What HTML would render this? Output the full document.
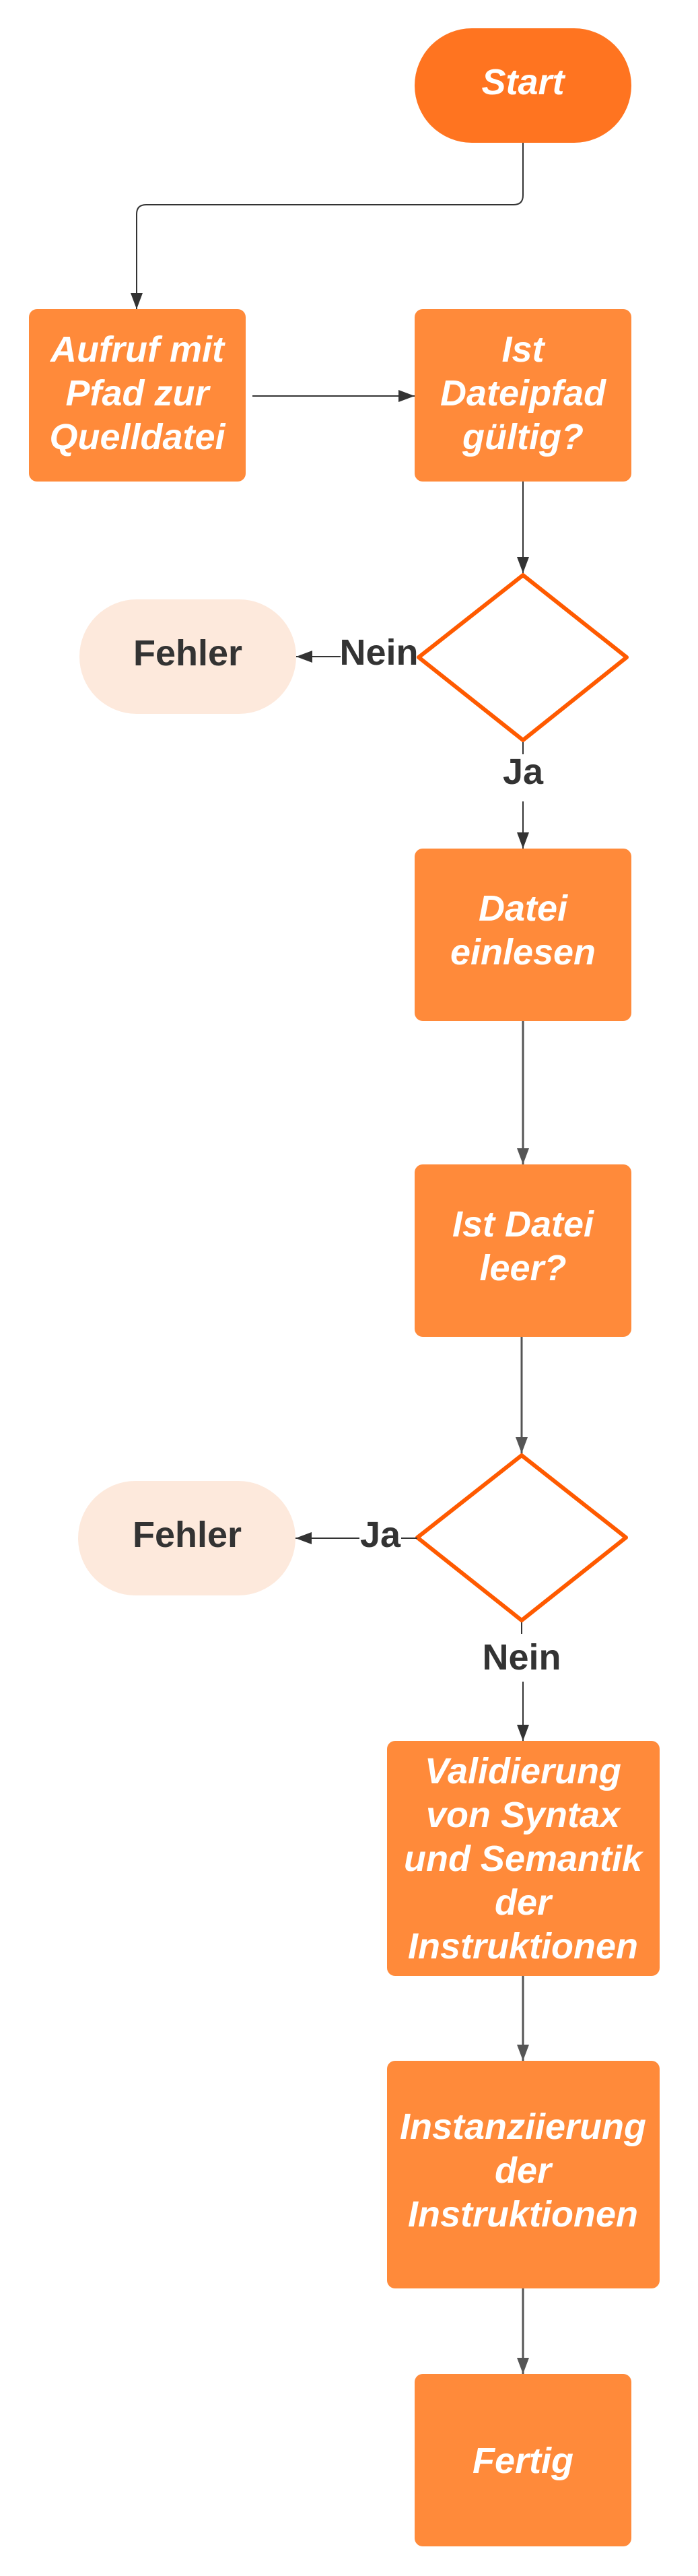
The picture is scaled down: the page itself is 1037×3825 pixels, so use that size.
<!DOCTYPE html>
<html><head><meta charset="utf-8"><style>html,body{margin:0;padding:0;background:#fff}svg{display:block}</style></head>
<body>
<svg width="1037" height="3825" viewBox="0 0 1037 3825" xmlns="http://www.w3.org/2000/svg">
<defs>
<marker id="b" markerWidth="24" markerHeight="24" refX="24" refY="12" orient="auto" markerUnits="userSpaceOnUse" viewBox="0 0 24 24"><path d="M0,3 L24,12 L0,21 z" fill="#333"/></marker>
<marker id="c" markerWidth="24" markerHeight="24" refX="24" refY="12" orient="auto" markerUnits="userSpaceOnUse" viewBox="0 0 24 24"><path d="M0,3 L24,12 L0,21 z" fill="#555"/></marker>
</defs>
<g font-family="Liberation Sans, sans-serif" font-weight="bold" text-anchor="middle">
<rect x="616" y="42" width="322" height="170" rx="85" fill="#FF7420"/>
<text x="777" y="140" font-size="54" font-style="italic" fill="#fff">Start</text>
<path d="M777,212 V290 Q777,304 763,304 H217 Q203,304 203,318 V459" fill="none" stroke="#333" stroke-width="2" marker-end="url(#b)"/>
<rect x="43" y="459" width="322" height="256" rx="12" fill="#FF8A3A"/>
<text font-size="54" font-style="italic" fill="#fff"><tspan x="204" y="537">Aufruf mit</tspan><tspan x="204" y="602">Pfad zur</tspan><tspan x="204" y="667">Quelldatei</tspan></text>
<line x1="375" y1="588" x2="616" y2="588" stroke="#333" stroke-width="2" marker-end="url(#b)"/>
<rect x="616" y="459" width="322" height="256" rx="12" fill="#FF8A3A"/>
<text font-size="54" font-style="italic" fill="#fff"><tspan x="777" y="537">Ist</tspan><tspan x="777" y="602">Dateipfad</tspan><tspan x="777" y="667">gültig?</tspan></text>
<line x1="777" y1="715" x2="777" y2="851" stroke="#333" stroke-width="2" marker-end="url(#b)"/>
<path d="M777,854 L931,976 L777,1099 L622,976 Z" fill="#fff" stroke="#FF5A00" stroke-width="6" stroke-linejoin="round"/>
<rect x="118" y="890" width="322" height="170" rx="85" fill="#FDE9DC"/>
<text x="279" y="988" font-size="54" fill="#333">Fehler</text>
<line x1="506" y1="975" x2="440" y2="975" stroke="#333" stroke-width="2" marker-end="url(#b)"/>
<text x="563" y="987" font-size="54" fill="#333">Nein</text>
<line x1="777" y1="1102" x2="777" y2="1120" stroke="#333" stroke-width="2"/>
<text x="777" y="1164" font-size="54" fill="#333">Ja</text>
<line x1="777" y1="1190" x2="777" y2="1260" stroke="#333" stroke-width="2" marker-end="url(#b)"/>
<rect x="616" y="1260" width="322" height="256" rx="12" fill="#FF8A3A"/>
<text font-size="54" font-style="italic" fill="#fff"><tspan x="777" y="1367">Datei</tspan><tspan x="777" y="1432">einlesen</tspan></text>
<line x1="777" y1="1516" x2="777" y2="1729" stroke="#555" stroke-width="3" marker-end="url(#c)"/>
<rect x="616" y="1729" width="322" height="256" rx="12" fill="#FF8A3A"/>
<text font-size="54" font-style="italic" fill="#fff"><tspan x="777" y="1836">Ist Datei</tspan><tspan x="777" y="1901">leer?</tspan></text>
<line x1="775" y1="1985" x2="775" y2="2158" stroke="#555" stroke-width="3" marker-end="url(#c)"/>
<path d="M775,2161 L930,2283 L775,2406 L620,2283 Z" fill="#fff" stroke="#FF5A00" stroke-width="6" stroke-linejoin="round"/>
<rect x="116" y="2199" width="323" height="170" rx="85" fill="#FDE9DC"/>
<text x="278" y="2297" font-size="54" fill="#333">Fehler</text>
<line x1="620" y1="2284" x2="596" y2="2284" stroke="#333" stroke-width="2"/>
<line x1="534" y1="2284" x2="439" y2="2284" stroke="#333" stroke-width="2" marker-end="url(#b)"/>
<text x="565" y="2297" font-size="54" fill="#333">Ja</text>
<line x1="775" y1="2409" x2="775" y2="2426" stroke="#333" stroke-width="2"/>
<text x="775" y="2479" font-size="54" fill="#333">Nein</text>
<line x1="777" y1="2497" x2="777" y2="2585" stroke="#333" stroke-width="2" marker-end="url(#b)"/>
<rect x="575" y="2585" width="405" height="349" rx="12" fill="#FF8A3A"/>
<text font-size="54" font-style="italic" fill="#fff"><tspan x="777" y="2648">Validierung</tspan><tspan x="777" y="2713">von Syntax</tspan><tspan x="777" y="2778">und Semantik</tspan><tspan x="777" y="2843">der</tspan><tspan x="777" y="2908">Instruktionen</tspan></text>
<line x1="777" y1="2934" x2="777" y2="3060" stroke="#555" stroke-width="3" marker-end="url(#c)"/>
<rect x="575" y="3060" width="405" height="338" rx="12" fill="#FF8A3A"/>
<text font-size="54" font-style="italic" fill="#fff"><tspan x="777" y="3176">Instanziierung</tspan><tspan x="777" y="3241">der</tspan><tspan x="777" y="3306">Instruktionen</tspan></text>
<line x1="777" y1="3398" x2="777" y2="3525" stroke="#555" stroke-width="3" marker-end="url(#c)"/>
<rect x="616" y="3525" width="322" height="256" rx="12" fill="#FF8A3A"/>
<text x="777" y="3672" font-size="54" font-style="italic" fill="#fff">Fertig</text>
</g>
</svg>
</body></html>
